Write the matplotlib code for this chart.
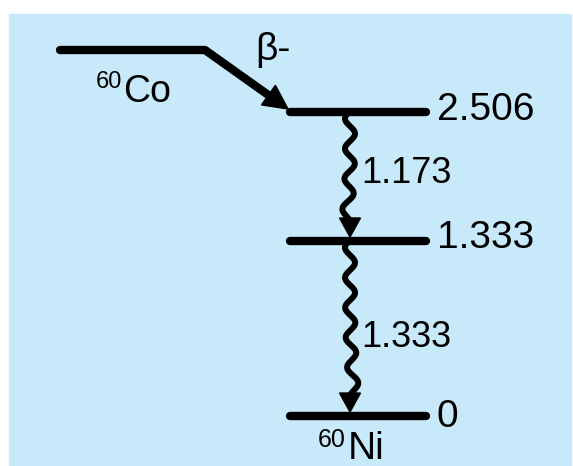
import numpy as np
import matplotlib.pyplot as plt
from matplotlib.patches import Rectangle, Polygon

plt.rcParams['font.family'] = ['Liberation Sans', 'DejaVu Sans']

# decay scheme data
level_energies = [2.506, 1.333, 0.0]
level_labels = ["2.506", "1.333", "0"]
gamma_energies = [1.173, 1.333]
gamma_labels = ["1.173", "1.333"]
mass_number = "60"
parent = "Co"
daughter = "Ni"
decay_label = "β-"

# layout (pixel coordinates, y down)
W, H = 573, 466
level_y = [112, 241, 416]
level_x = (290, 426)
level_label_base = [120, 248, 427]
gamma_label_base = [183, 347]
parent_pts = [(60, 50), (205, 50), (288, 109)]
gamma_x = 350
wave_amp = 5.0
wave_period = 30.0
head_len = 19
head_w = 21
bg = "#c7e9f9"

fig = plt.figure(figsize=(W / 100, H / 100), dpi=100)
ax = fig.add_axes([0, 0, 1, 1])
ax.set_xlim(0, W)
ax.set_ylim(H, 0)
ax.axis("off")
ax.add_patch(Rectangle((9, 14), 562, H, color=bg, zorder=0))

# energy levels
for y, yb, lab in zip(level_y, level_label_base, level_labels):
    ax.plot(level_x, [y, y], color="k", lw=6, solid_capstyle="round", zorder=3)
    ax.text(level_x[1] + 11, yb, lab, fontsize=28, va="baseline", ha="left")

# parent level and beta transition
px, py = zip(*parent_pts)
ax.plot(px[:2], py[:2], color="k", lw=6, solid_capstyle="round", zorder=3)
x0, y0 = parent_pts[1]
x1, y1 = parent_pts[2]
d = np.array([x1 - x0, y1 - y0], float)
d /= np.hypot(*d)
n = np.array([-d[1], d[0]])
tip = np.array([x1, y1])
base = tip - d * 24
ax.plot([x0, base[0]], [y0, base[1]], color="k", lw=6, solid_capstyle="butt", zorder=3)
ax.add_patch(Polygon([tip, base + n * 12, base - n * 12], color="k", zorder=4))
ax.text(255, 60, decay_label, fontsize=28, va="baseline", ha="left")
ax.text(123, 102, parent, fontsize=27, va="baseline", ha="left")
ax.text(122, 88, mass_number, fontsize=17, va="baseline", ha="right")

# gamma transitions
for i, lab in enumerate(gamma_labels):
    ys = level_y[i] + 2
    tip_y = level_y[i + 1] - 4
    base_y = tip_y - head_len
    yy = np.linspace(ys, base_y + 3, 300)
    xx = gamma_x - wave_amp * np.sin(2 * np.pi * (yy - ys) / wave_period + 0.6)
    xx = xx + (gamma_x - xx[-1]) * np.linspace(0, 1, yy.size) ** 4
    ax.plot(xx, yy, color="k", lw=4.3, zorder=3, solid_capstyle="butt")
    ax.add_patch(Polygon([(gamma_x - head_w / 2, base_y), (gamma_x + head_w / 2, base_y),
                          (gamma_x, tip_y)], color="k", zorder=4))
    ax.text(gamma_x + 11, gamma_label_base[i], lab, fontsize=26,
            va="baseline", ha="left")

ax.text(348, 459, daughter, fontsize=28, va="baseline", ha="left")
ax.text(346, 447, mass_number, fontsize=18, va="baseline", ha="right")

fig.savefig("out.png", dpi=100, facecolor="white")
